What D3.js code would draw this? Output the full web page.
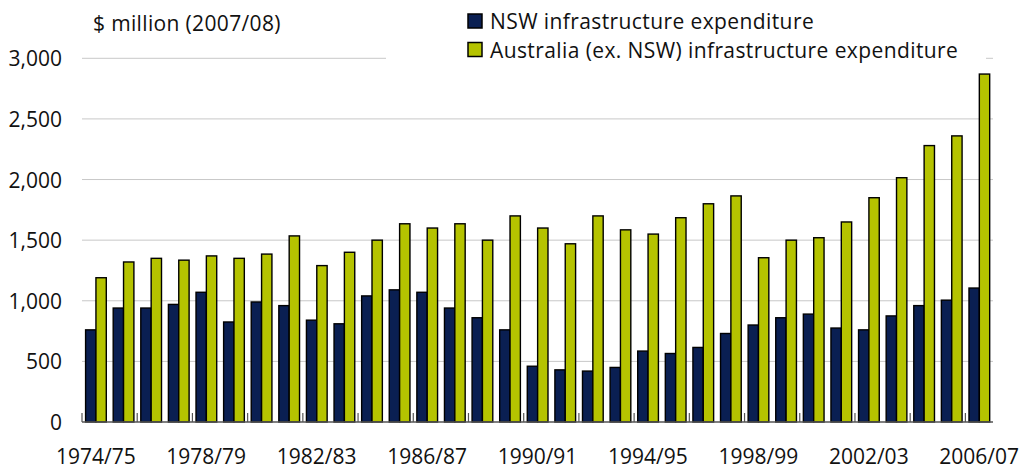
<!DOCTYPE html>
<html>
<head>
<meta charset="utf-8">
<script src="https://cdn.jsdelivr.net/npm/d3@7"></script>
<style>
  html, body { margin: 0; padding: 0; background: #fff; }
  svg { display: block; font-family: "Open Sans", "Noto Sans", sans-serif; }
</style>
</head>
<body>
<svg id="chart" width="1020" height="470"></svg>
<script>
const years = ["1974/75","1975/76","1976/77","1977/78","1978/79","1979/80","1980/81","1981/82",
  "1982/83","1983/84","1984/85","1985/86","1986/87","1987/88","1988/89","1989/90","1990/91",
  "1991/92","1992/93","1993/94","1994/95","1995/96","1996/97","1997/98","1998/99","1999/00",
  "2000/01","2001/02","2002/03","2003/04","2004/05","2005/06","2006/07"];
const nswValues = [760,940,940,970,1070,825,990,960,840,810,1040,1090,1070,940,860,760,460,
  430,420,450,585,565,615,730,800,860,890,775,760,875,960,1005,1105];
const ausValues = [1190,1320,1350,1335,1370,1350,1385,1535,1290,1400,1500,1635,1600,1635,1500,1700,1600,
  1470,1700,1585,1550,1685,1800,1865,1355,1500,1520,1650,1850,2015,2280,2360,2870];
const yTicks = [0,500,1000,1500,2000,2500,3000];
const xLabelYears = ["1974/75","1978/79","1982/83","1986/87","1990/91","1994/95","1998/99","2002/03","2006/07"];
const seriesNames = ["NSW infrastructure expenditure","Australia (ex. NSW) infrastructure expenditure"];
const seriesColors = ["#0a1f52","#b5c300"];
const yUnit = "$ million (2007/08)";

const svg = d3.select("#chart");
const pLeft = 82, pRight = 993, pTop = 58.3, pBottom = 422;
const fs = 21;

const x = d3.scaleBand().domain(years).range([pLeft, pRight]).padding(0);
const bw = x.bandwidth();
const xs = d3.scaleBand().domain([0,1]).range([bw*0.13, bw*0.88]).padding(0);
const y = d3.scaleLinear().domain([0,3000]).range([pBottom, pTop]);

// gridlines
svg.append("g").selectAll("line").data(yTicks.filter(d => d > 0)).join("line")
  .attr("x1", pLeft).attr("x2", pRight)
  .attr("y1", d => y(d)).attr("y2", d => y(d))
  .attr("stroke", "#c8c8c8").attr("stroke-width", 1);

// y labels
svg.append("g").selectAll("text").data(yTicks).join("text")
  .attr("x", 62).attr("y", d => y(d) + 8)
  .attr("text-anchor", "end").attr("font-size", fs).attr("fill", "#111")
  .text(d => d3.format(",")(d));

// bars
const data = years.map((yr, i) => ({yr, vals: [nswValues[i], ausValues[i]]}));
const groups = svg.append("g").selectAll("g").data(data).join("g")
  .attr("transform", d => `translate(${x(d.yr)},0)`);
groups.selectAll("rect").data(d => d.vals.map((v, k) => ({v, k}))).join("rect")
  .attr("x", d => xs(d.k)).attr("width", xs.bandwidth())
  .attr("y", d => y(d.v)).attr("height", d => y(0) - y(d.v))
  .attr("fill", d => seriesColors[d.k]).attr("stroke", "#000").attr("stroke-width", 1.4);

// x axis baseline & ticks
svg.append("line").attr("x1", pLeft).attr("x2", pRight).attr("y1", pBottom).attr("y2", pBottom)
  .attr("stroke", "#555").attr("stroke-width", 1.5);
const tickYears = years.filter((d, i) => i % 2 === 0);
svg.append("g").selectAll("line").data(tickYears).join("line")
  .attr("x1", d => x(d)).attr("x2", d => x(d))
  .attr("y1", pBottom).attr("y2", pBottom - 9)
  .attr("stroke", "#555").attr("stroke-width", 1.2);

// x labels
svg.append("g").selectAll("text").data(xLabelYears).join("text")
  .attr("x", d => x(d) + bw/2).attr("y", 464)
  .attr("text-anchor", "middle").attr("font-size", fs).attr("fill", "#111")
  .text(d => d);

// unit label
svg.append("text").attr("x", 93).attr("y", 30.5)
  .attr("font-size", fs).attr("letter-spacing", 0.35).attr("fill", "#111").text(yUnit);

// legend
svg.append("rect").attr("x", 386).attr("y", 0).attr("width", 600).attr("height", 66).attr("fill", "#fff");
const lg = svg.append("g").selectAll("g").data(seriesNames).join("g")
  .attr("transform", (d, i) => `translate(468,${14 + i*28.5})`);
lg.append("rect").attr("width", 14).attr("height", 14)
  .attr("fill", (d, i) => seriesColors[i]).attr("stroke", "#000").attr("stroke-width", 1.5);
lg.append("text").attr("x", 22).attr("y", 15)
  .attr("font-size", fs).attr("letter-spacing", 0.4).attr("fill", "#111").text(d => d);
</script>
</body>
</html>
